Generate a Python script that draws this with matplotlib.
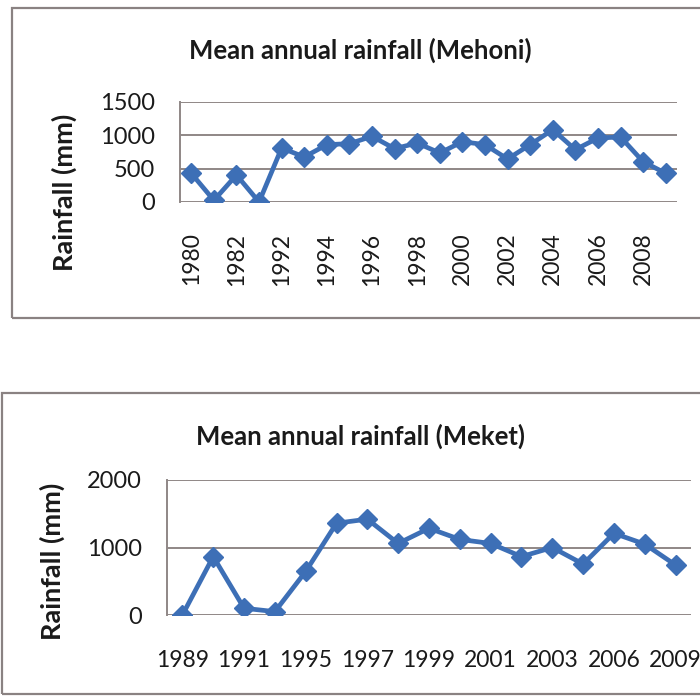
import matplotlib
matplotlib.use("Agg")
import matplotlib.pyplot as plt
from matplotlib.patches import Rectangle

plt.rcParams['font.family'] = ['Lato', 'DejaVu Sans']

# Mehoni station
mehoni_years = ['1980', '1981', '1982', '1983', '1992', '1993', '1994', '1995',
                '1996', '1997', '1998', '1999', '2000', '2001', '2002', '2003',
                '2004', '2005', '2006', '2007', '2008', '2009']
mehoni_rain = [430, 25, 405, 0, 810, 675, 860, 875, 985, 800, 885, 735,
               905, 860, 645, 860, 1085, 785, 960, 975, 605, 430]

# Meket station
meket_years = ['1989', '1990', '1991', '1993', '1995', '1996', '1997', '1998',
               '1999', '2000', '2001', '2002', '2003', '2005', '2006', '2008',
               '2009']
meket_rain = [0, 865, 100, 50, 645, 1360, 1420, 1060, 1285, 1120, 1060,
              865, 1000, 755, 1210, 1050, 740]

W, H = 700, 698
LINE = '#3d6fb6'
GRID = '#8f8786'
TXT = '#1a1a1a'

fig = plt.figure(figsize=(W / 100, H / 100), dpi=100)
fig.patch.set_facecolor('white')


def px_axes(left, top, right, bottom):
    return fig.add_axes([left / W, 1 - bottom / H, (right - left) / W, (bottom - top) / H])


def frame(left, top, right, bottom):
    fig.patches.append(Rectangle((left / W, 1 - bottom / H), (right - left) / W,
                                 (bottom - top) / H, transform=fig.transFigure,
                                 fill=False, edgecolor='#8a8282', linewidth=1.6))


def style(ax, years, rain, yticks, rot, pad):
    x = list(range(len(years)))
    ax.plot(x, rain, color=LINE, linewidth=3.4, marker='D', markersize=10,
            markerfacecolor=LINE, markeredgecolor=LINE, zorder=3)
    ax.set_xlim(-0.5, len(years) - 0.5)
    ax.set_ylim(yticks[0], yticks[-1])
    ax.set_yticks(yticks)
    ax.set_yticklabels([str(v) for v in yticks], fontsize=17, color=TXT)
    ax.set_xticks(x[::2])
    ax.set_xticklabels(years[::2], fontsize=16.5, color=TXT, rotation=rot)
    ax.tick_params(axis='both', length=0)
    ax.tick_params(axis='y', pad=18)
    ax.tick_params(axis='x', pad=pad)
    ax.grid(axis='y', color=GRID, linewidth=1.4)
    ax.set_axisbelow(True)
    for s in ['top', 'right', 'bottom']:
        ax.spines[s].set_visible(False)
    ax.spines['left'].set_color(GRID)
    ax.spines['left'].set_linewidth(1.4)


# top chart
frame(12, 8, 712, 318)
ax1 = px_axes(180, 102, 677, 202)
style(ax1, mehoni_years, mehoni_rain, [0, 500, 1000, 1500], 90, 22)
fig.text(360 / W, 1 - 50 / H, 'Mean annual rainfall (Mehoni)', ha='center',
         va='center', fontsize=18.5, fontweight='bold', color=TXT)
fig.text(64 / W, 1 - 192 / H, 'Rainfall (mm)', ha='center', va='center',
         rotation=90, fontsize=19.5, fontweight='bold', color=TXT)

# bottom chart
frame(2, 393, 712, 694)
ax2 = px_axes(167, 480, 691, 615)
style(ax2, meket_years, meket_rain, [0, 1000, 2000], 0, 25)
fig.text(361 / W, 1 - 436 / H, 'Mean annual rainfall (Meket)', ha='center',
         va='center', fontsize=18.5, fontweight='bold', color=TXT)
fig.text(52 / W, 1 - 561 / H, 'Rainfall (mm)', ha='center', va='center',
         rotation=90, fontsize=19.5, fontweight='bold', color=TXT)

fig.savefig('out.png', dpi=100)
